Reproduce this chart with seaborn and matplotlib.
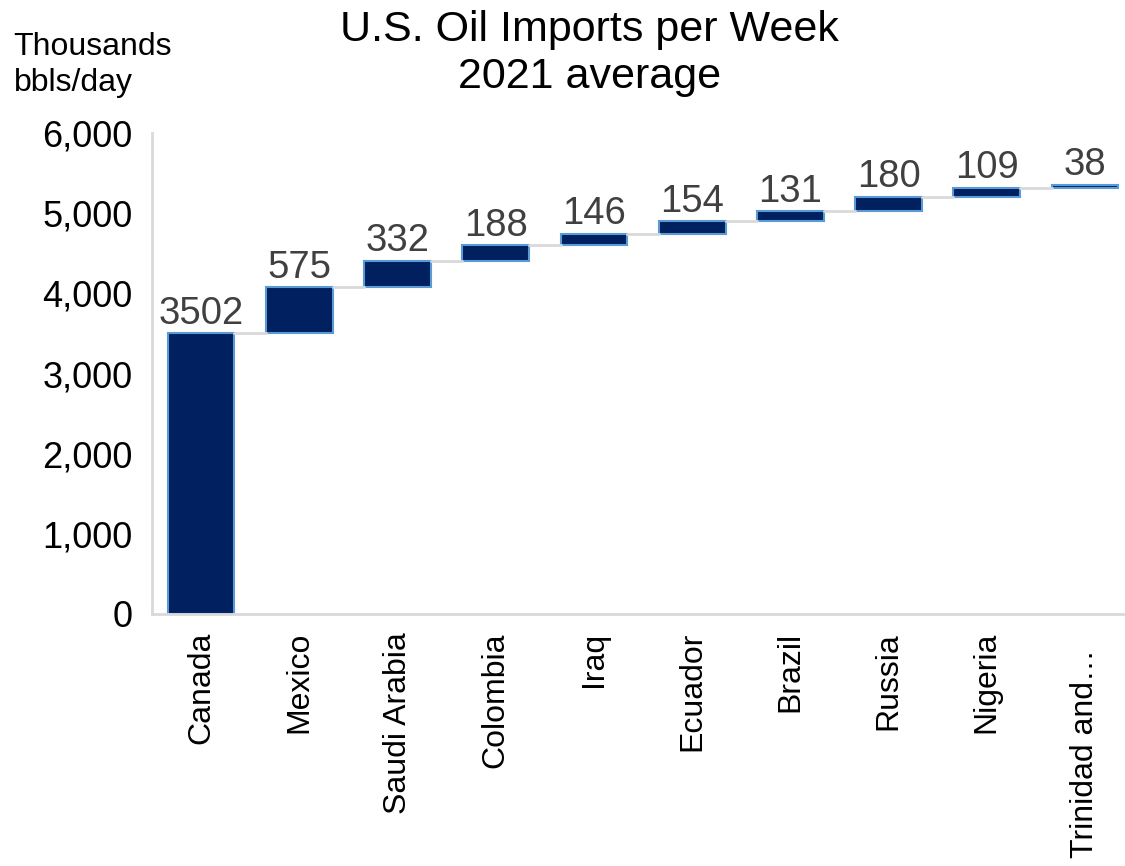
import numpy as np
import pandas as pd
import matplotlib
matplotlib.use("Agg")
import matplotlib.pyplot as plt
import matplotlib.transforms as mtransforms
import seaborn as sns
from matplotlib.ticker import FuncFormatter

categories = ["Canada", "Mexico", "Saudi Arabia", "Colombia", "Iraq",
              "Ecuador", "Brazil", "Russia", "Nigeria", "Trinidad and…"]
values = [3502, 575, 332, 188, 146, 154, 131, 180, 109, 38]
y_ticks = [0, 1000, 2000, 3000, 4000, 5000, 6000]

cum = np.cumsum(values)
bases = cum - np.array(values)

sns.set_theme(style="white")
plt.rcParams['font.family'] = ['Liberation Sans', 'DejaVu Sans']

fig = plt.figure(figsize=(11.25, 8.66), dpi=100)
ax = fig.add_axes([0.1351, 0.291, 0.873, 0.5554])

df = pd.DataFrame({"country": categories, "value": values})
sns.barplot(data=df, x="country", y="value", order=categories,
            color="#002060", saturation=1, width=0.68,
            bottom=bases, edgecolor="#5b9bd5", linewidth=1.5, ax=ax)

# connectors
for i in range(len(values) - 1):
    ax.plot([i + 0.34, i + 1 - 0.34], [cum[i], cum[i]],
            color="#d9d9d9", lw=2, zorder=1)

for i, (c, v) in enumerate(zip(cum, values)):
    ax.annotate(f"{v}", (i, c), xytext=(0, 1), textcoords="offset points",
                ha="center", va="bottom", fontsize=27.5, color="#404040")

ax.set_ylim(0, 6000)
ax.set_xlim(-0.5, 9.5)
ax.set_yticks(y_ticks)
ax.yaxis.set_major_formatter(FuncFormatter(lambda v, p: f"{int(v):,}"))
ax.tick_params(axis="y", labelsize=26, length=0, pad=14, colors="black")
ax.tick_params(axis="x", labelsize=23, length=0, pad=13, colors="black")
plt.setp(ax.get_xticklabels(), rotation=90, va="top", ha="center")
last = ax.get_xticklabels()[-1]
last.set_transform(last.get_transform() +
                   mtransforms.ScaledTranslation(0, -0.17, fig.dpi_scale_trans))
ax.set_xlabel("")
ax.set_ylabel("")
for s in ["top", "right"]:
    ax.spines[s].set_visible(False)
for s in ["left", "bottom"]:
    ax.spines[s].set_color("#d9d9d9")
    ax.spines[s].set_linewidth(2)

fig.text(0.524, 0.988, "U.S. Oil Imports per Week\n2021 average", ha="center",
         va="top", fontsize=31, color="black", linespacing=1.22)
fig.text(0.012, 0.963, "Thousands\nbbls/day", ha="left", va="top",
         fontsize=23, color="black", linespacing=1.24)

fig.savefig("out.png", dpi=100)
